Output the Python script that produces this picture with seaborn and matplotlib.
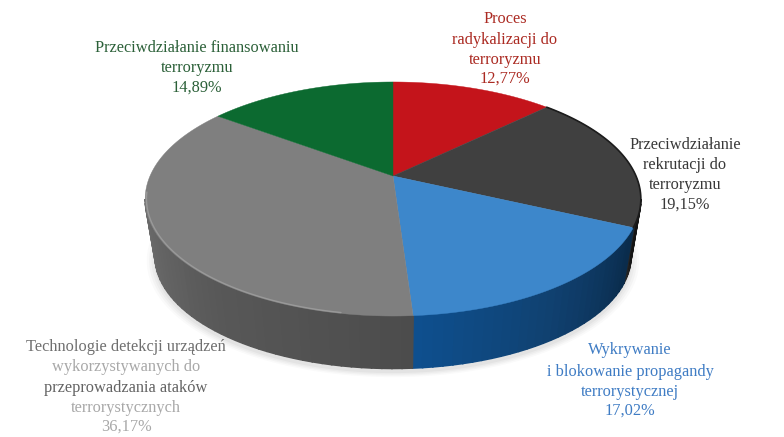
import numpy as np
import seaborn as sns
from matplotlib import pyplot as plt

# udzial kategorii, zgodnie z ruchem wskazowek zegara od gory
values = [12.77, 19.15, 17.02, 36.17, 14.89]
top_colors = ['#c4141b', '#404040', '#3d87cb', '#7f7f7f', '#0c6a30']
wall_colors = [
    ['#7a0c10', '#7a0c10'],
    ['#2a2a2a', '#141414'],
    ['#0e4f8e', '#10406f', '#0a2c4c'],
    ['#6e6e6e', '#585858', '#4c4c4c'],
    ['#08401d', '#08401d'],
]
label_lines = [
    ['Proces', 'radykalizacji do', 'terroryzmu'],
    ['Przeciwdziałanie', 'rekrutacji do', 'terroryzmu'],
    ['Wykrywanie', 'i blokowanie propagandy', 'terrorystycznej'],
    ['Technologie detekcji urządzeń', 'wykorzystywanych do',
     'przeprowadzania ataków', 'terrorystycznych'],
    ['Przeciwdziałanie finansowaniu', 'terroryzmu'],
]
label_x = [505, 685, 630, 126, 197]
label_y = [
    [19, 40, 60, 79],
    [145, 165, 185, 205],
    [350, 372, 392, 411],
    [347, 367, 388, 408, 427],
    [48, 68, 88],
]
label_colors = [
    ['#ab2a22'] * 4,
    ['#383838'] * 4,
    ['#3f7cc4'] * 4,
    ['#6f6f6f', '#a8a8a8', '#636363', '#a8a8a8', '#a8a8a8'],
    ['#2b6038'] * 3,
]

# perspektywa kola na ekran
TILT = 0.1966
FRONT_LIMIT = -np.degrees(np.arcsin(TILT))


def project(theta, radius=1.0, cy=176.0, scale=1.0):
    t = np.radians(theta)
    x = radius * np.cos(t)
    y = radius * np.sin(t)
    d = 1 + TILT * y
    return 393 + scale * 243 * x / d, cy - scale * 112.5 * y / d


sns.set_theme(style='white')
plt.rcParams['font.family'] = ['Liberation Serif', 'DejaVu Sans']

fig, ax = plt.subplots(figsize=(7.84, 4.37), dpi=100)
fig.subplots_adjust(0, 0, 1, 1)

# katy wycinkow liczy sam pie
wedges, _ = ax.pie(values, startangle=90, counterclock=False, colors=top_colors)
angles = [(w.theta1, w.theta2) for w in wedges]
for w in wedges:
    w.remove()

ax.set_aspect('auto')
ax.set_xlim(0, 784)
ax.set_ylim(437, 0)
ax.axis('off')

# cien pod spodem
arc = np.linspace(0, 360, 240)
for grow, alpha in zip([1.035, 1.025, 1.015, 1.005], [0.04, 0.05, 0.06, 0.08]):
    sx, sy = project(arc, cy=238, scale=0.96 * grow)
    ax.fill(sx, sy, color='#808080', alpha=alpha, lw=0, zorder=1)

# bok
front_lo, front_hi = -180 - FRONT_LIMIT, FRONT_LIMIT
for (t1, t2), shades in zip(angles, wall_colors):
    lo, hi = max(t1, front_lo), min(t2, front_hi)
    if hi <= lo:
        continue
    n = max(int((hi - lo) / 2), 2)
    pal = sns.blend_palette(shades, n)
    steps = np.linspace(lo, hi, n + 1)
    # od lewej do prawej po przedzie
    for i in range(n):
        seg = np.linspace(steps[i], steps[i + 1], 5)
        xt, yt = project(seg)
        xb, yb = project(seg, cy=234, scale=0.96)
        ax.fill(np.r_[xt, xb[::-1]], np.r_[yt, yb[::-1]],
                facecolor=pal[i], edgecolor=pal[i], lw=1.2, zorder=2)

# gorna powierzchnia
for (t1, t2), c in zip(angles, top_colors):
    seg = np.linspace(t1, t2, 120)
    xr, yr = project(seg)
    ax.fill(np.r_[393, xr], np.r_[176, yr], facecolor=c, edgecolor=c, lw=0.3, zorder=3)

# jasna krawedz szarego wycinka i ciemna krawedz czarnego
xr, yr = project(np.linspace(-172, -100, 100), radius=0.995)
ax.plot(xr, yr, color='#a0a0a0', lw=1.0, alpha=0.8, zorder=4)
xr, yr = project(np.linspace(angles[1][0], angles[1][1], 60))
ax.plot(xr, yr, color='#1c1c1c', lw=1.2, zorder=4)

# opisy
for val, lines, x, ys, cols in zip(values, label_lines, label_x, label_y, label_colors):
    texts = lines + ['{:.2f}%'.format(val).replace('.', ',')]
    for line, y, col in zip(texts, ys, cols):
        ax.text(x, y, line, color=col, ha='center', va='center', fontsize=11.8, zorder=5)

fig.savefig('out.png', dpi=100)
